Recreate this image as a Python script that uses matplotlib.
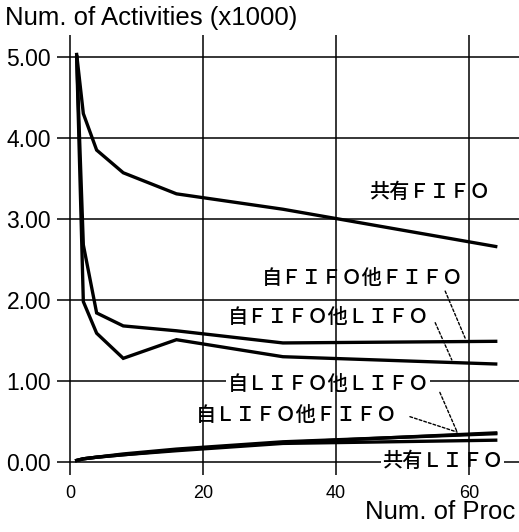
import matplotlib
matplotlib.use('Agg')
import matplotlib.pyplot as plt

# processors and activity counts (x1000)
procs = [1, 2, 4, 8, 16, 32, 64]
shared_fifo = [5.03, 4.30, 3.85, 3.57, 3.31, 3.12, 2.66]
fifo_fifo = [5.00, 2.68, 1.84, 1.68, 1.62, 1.47, 1.49]
fifo_lifo = [5.00, 1.98, 1.59, 1.28, 1.51, 1.30, 1.21]
lifo_lifo = [0.02, 0.04, 0.06, 0.09, 0.15, 0.24, 0.36]
lifo_fifo = [0.02, 0.04, 0.06, 0.10, 0.16, 0.25, 0.35]
shared_lifo = [0.02, 0.04, 0.06, 0.09, 0.14, 0.23, 0.27]

xticks = [0, 20, 40, 60]
yticks = [0, 1, 2, 3, 4, 5]

latin = 'Liberation Sans'
jp = ['Noto Sans CJK JP', 'DejaVu Sans']

fig = plt.figure(figsize=(5.19, 5.32), dpi=100)
ax = fig.add_axes([0.1093, 0.1071, 0.8907, 0.8271])

# horizontal grid under the label boxes, vertical grid over them
for y in yticks:
    ax.axhline(y, color='black', lw=1.1, zorder=1)
for x in xticks:
    ax.axvline(x, color='black', lw=1.1, zorder=2.5)

for s in [shared_fifo, fifo_fifo, fifo_lifo, lifo_lifo, lifo_fifo, shared_lifo]:
    ax.plot(procs, s, color='black', lw=2.4, solid_joinstyle='miter', zorder=3)

ax.set_xlim(-2, 67.5)
ax.set_ylim(-0.16, 5.27)
ax.set_xticks(xticks)
ax.set_yticks(yticks)
ax.set_xticklabels([str(v) for v in xticks], fontname=latin, fontsize=13)
ax.set_yticklabels(['%.2f' % v for v in yticks], fontname=latin, fontsize=16.5)
ax.tick_params(axis='both', length=0)
ax.tick_params(axis='x', pad=7)
ax.tick_params(axis='y', pad=4)
for sp in ax.spines.values():
    sp.set_visible(False)

# series labels
lab = dict(family=jp, fontsize=14.5, fontweight='medium', ha='center', va='center')
white = dict(fc='white', ec='none', pad=1)
ax.text(54.0, 3.33, '共有ＦＩＦＯ', zorder=4, **lab)
ax.text(44.0, 2.26, '自ＦＩＦＯ他ＦＩＦＯ', zorder=4, **lab)
ax.text(38.8, 1.78, '自ＦＩＦＯ他ＬＩＦＯ', zorder=4, **lab)
ax.text(38.8, 0.96, '自ＬＩＦＯ他ＬＩＦＯ', bbox=white, zorder=2, **lab)
ax.text(34.1, 0.58, '自ＬＩＦＯ他ＦＩＦＯ', zorder=4, **lab)
ax.text(56.0, 0.01, '共有ＬＩＦＯ', bbox=white, zorder=2, **lab)

# dotted leader lines from labels to curves
dash = dict(arrowstyle='-', linestyle=(0, (2, 1.5)), color='black', lw=1.0,
            shrinkA=0, shrinkB=0)
leaders = [((56.4, 2.11), (59.4, 1.53)),
           ((54.9, 1.72), (57.4, 1.26)),
           ((55.6, 0.86), (58.2, 0.37)),
           ((51.1, 0.56), (58.2, 0.37))]
for start, end in leaders:
    ax.annotate('', xy=end, xytext=start, arrowprops=dash, zorder=5)

fig.text(5 / 519, 1 - 18 / 532, 'Num. of Activities (x1000)', fontname=latin,
         fontsize=18.5, ha='left', va='center')
fig.text(515 / 519, 1 - 512 / 532, 'Num. of Proc', fontname=latin,
         fontsize=18.5, ha='right', va='center')

plt.savefig('out.png', dpi=100)
plt.close()
